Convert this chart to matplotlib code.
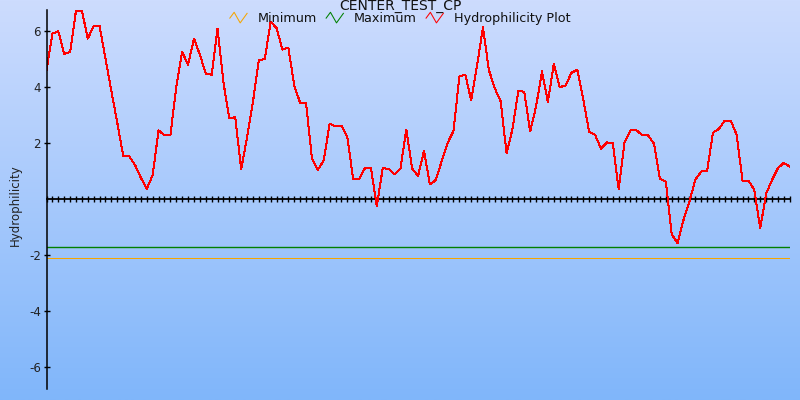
import numpy as np
import matplotlib
matplotlib.use("Agg")
import matplotlib.pyplot as plt
from matplotlib.lines import Line2D
from matplotlib.legend_handler import HandlerBase
from matplotlib.colors import to_rgb

title = "CENTER_TEST_CP"
y_label = "Hydrophilicity"
series_names = ["Minimum", "Maximum", "Hydrophilicity Plot"]
series_colors = ["#f5a500", "#008000", "#ff0000"]

minimum_value = -2.1
maximum_value = -1.71

hydrophilicity = [
    4.59, 5.90, 5.98, 5.18, 5.24, 6.72, 6.72, 5.72, 6.17, 6.17,
    5.00, 3.85, 2.72, 1.55, 1.53, 1.22, 0.76, 0.36, 0.86, 2.45,
    2.27, 2.27, 4.00, 5.25, 4.79, 5.72, 5.15, 4.47, 4.43, 6.08,
    4.15, 2.88, 2.92, 1.06, 2.20, 3.46, 4.97, 4.98, 6.32, 6.10,
    5.33, 5.40, 4.05, 3.43, 3.43, 1.46, 1.04, 1.38, 2.68, 2.60,
    2.62, 2.21, 0.70, 0.71, 1.11, 1.11, -0.25, 1.10, 1.08, 0.88,
    1.08, 2.48, 1.08, 0.83, 1.72, 0.52, 0.68, 1.35, 2.00, 2.43,
    4.37, 4.44, 3.52, 4.77, 6.12, 4.60, 3.95, 3.48, 1.63, 2.50,
    3.86, 3.82, 2.41, 3.30, 4.55, 3.46, 4.81, 3.99, 4.05, 4.50,
    4.61, 3.55, 2.39, 2.29, 1.80, 2.02, 2.00, 0.36, 2.03, 2.45,
    2.45, 2.29, 2.27, 1.97, 0.72, 0.62, -1.25, -1.57, -0.74, -0.09,
    0.70, 0.98, 1.02, 2.37, 2.50, 2.80, 2.80, 2.30, 0.66, 0.66,
    0.33, -1.05, 0.19, 0.68, 1.10, 1.29, 1.16,
]
y_ticks = [-6, -4, -2, 2, 4, 6]

positions = np.arange(len(hydrophilicity))


class ZigZagHandler(HandlerBase):
    def create_artists(self, legend, orig_handle, xdescent, ydescent,
                       width, height, fontsize, trans):
        xs = np.array([0.0, 0.25, 0.6, 1.0]) * width - xdescent
        ys = np.array([0.45, 1.0, 0.0, 0.9]) * height - ydescent
        ln = Line2D(xs, ys, color=orig_handle.get_color(), lw=0.75)
        ln.set_transform(trans)
        return [ln]


W, H = 800, 400
fig = plt.figure(figsize=(8, 4), dpi=100)

# gradient background
bg = fig.add_axes([0, 0, 1, 1], zorder=-10)
top_c = np.array(to_rgb("#cddcfe"))
bot_c = np.array(to_rgb("#80b6fa"))
t = np.linspace(0, 1, 256)[:, None]
grad = (top_c[None, :] * (1 - t) + bot_c[None, :] * t)[:, None, :]
bg.imshow(grad, aspect="auto", extent=[0, 1, 0, 1], origin="upper")
bg.set_axis_off()

left, right = 46.5 / W, 789.7 / W
top, bottom = 10 / H, 389.3 / H
ax = fig.add_axes([left, 1 - bottom, right - left, bottom - top])
ax.patch.set_alpha(0)

ax.plot(positions, [minimum_value] * len(positions), color=series_colors[0], lw=0.75)
ax.plot(positions, [maximum_value] * len(positions), color=series_colors[1], lw=1.0)
ax.plot(positions, hydrophilicity, color=series_colors[2], lw=0.72, antialiased=False)

ax.set_xlim(0, len(positions) - 1)
ax.set_ylim(-6.78, 6.74)

for s in ["top", "right"]:
    ax.spines[s].set_visible(False)
ax.spines["bottom"].set_position(("data", 0))
ax.spines["bottom"].set_linewidth(1.3)
ax.spines["left"].set_linewidth(1.1)
ax.spines["bottom"].set_zorder(1)

ax.set_xticks(positions)
ax.set_xticklabels([])
ax.tick_params(axis="x", direction="inout", length=5, width=1.0, color="black")
ax.set_yticks(y_ticks)
ax.set_yticklabels([str(v) for v in y_ticks])
ax.tick_params(axis="y", direction="inout", length=5, width=1.0, color="black",
               labelsize=8.5, labelcolor="#222222", pad=1.5)

fig.text(15 / W, 1 - 205 / H, y_label, rotation=90, ha="center", va="center",
         fontsize=8.5, color="#222222")

fig.text(0.5, 1 - 9.5 / H, title, ha="center", va="baseline", fontsize=10,
         color="#111111")

handles = [Line2D([], [], color=c) for c in series_colors]
leg = fig.legend(handles, series_names, loc="center", ncol=3,
                 bbox_to_anchor=(0.5, 1 - 18.5 / H), frameon=False,
                 fontsize=9.2, handlelength=1.35, handleheight=0.9,
                 handletextpad=0.8, columnspacing=0.75, borderpad=0,
                 handler_map={Line2D: ZigZagHandler()})
for txt in leg.get_texts():
    txt.set_color("#111111")

fig.savefig("out.png", dpi=100)
